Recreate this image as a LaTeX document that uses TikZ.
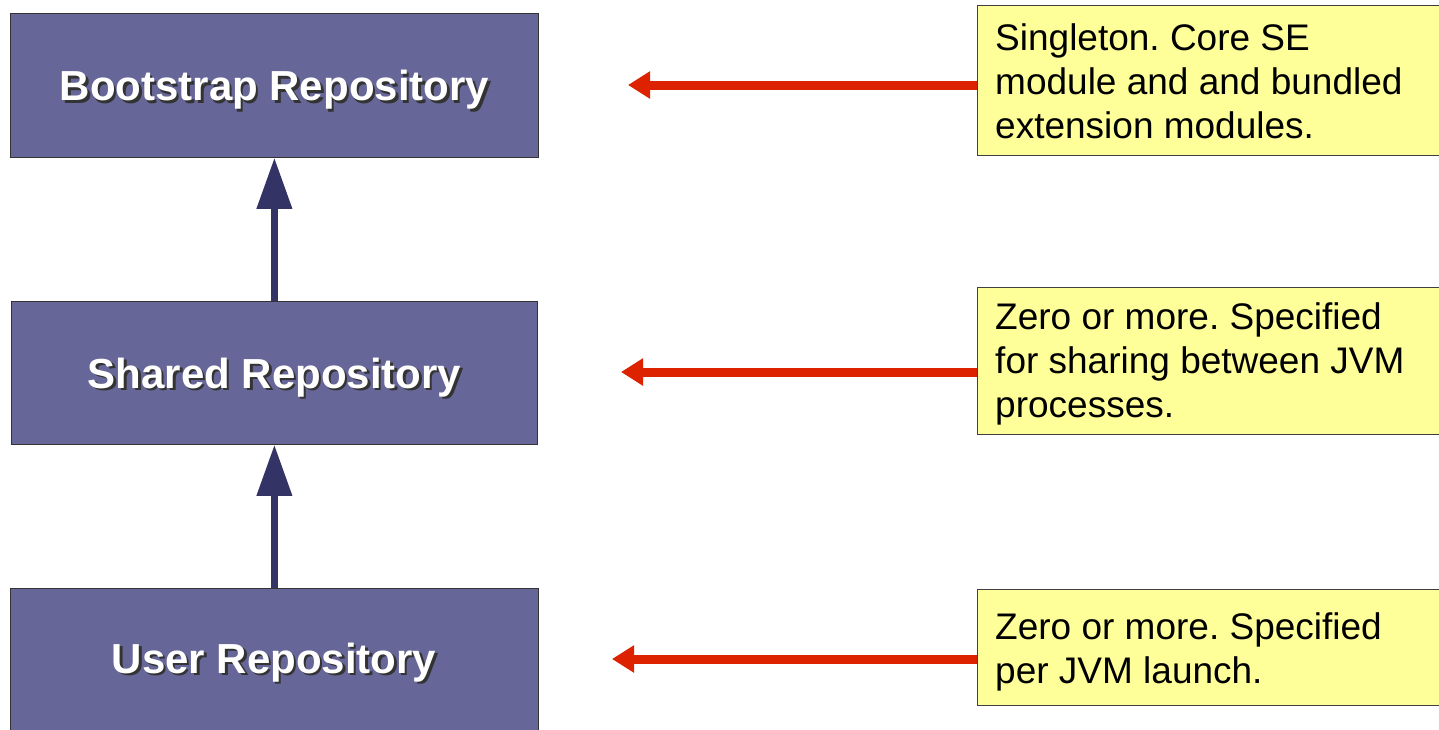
\documentclass[tikz,border=0pt]{standalone}
\usepackage{fontspec}
\setmainfont{Liberation Sans}
\usetikzlibrary{arrows.meta}
\definecolor{repofill}{HTML}{666699}
\definecolor{navy}{HTML}{333366}
\definecolor{redarr}{HTML}{DD2200}
\definecolor{note}{HTML}{FFFF99}
\frenchspacing
\begin{document}
\begin{tikzpicture}[x=1pt,y=-1pt,
  repo/.style={draw=black!80, line width=0.8pt, fill=repofill, anchor=north west, inner sep=0pt, minimum width=528pt},
  titletxt/.style={font=\fontsize{42}{50}\selectfont\bfseries, text=white, inner sep=0pt},
  shadowtxt/.style={font=\fontsize{42}{50}\selectfont\bfseries, text=black!80, inner sep=0pt},
  uparrow/.style={draw=navy, line width=7pt, -{Triangle[length=51pt,width=34pt,fill=navy]}},
  redarrow/.style={draw=redarr, line width=9pt, -{Triangle[length=22pt,width=26pt,fill=redarr]}},
  notebox/.style={draw=black!75, line width=1pt, fill=note, anchor=north west, inner sep=0pt, minimum width=470pt},
  notetext/.style={font=\fontsize{37}{44}\selectfont, align=left, anchor=north west, inner sep=0pt}
]
\useasboundingbox (0,0) rectangle (1439,729);
\clip (0,0) rectangle (1439,729);
\fill[white] (0,0) rectangle (1439,729);

% repository boxes
\node[repo, minimum height=144pt] (boot) at (10,13) {};
\node[repo, minimum width=526pt, minimum height=143pt] (shared) at (11,301) {};
\node[repo, minimum height=150pt] (user) at (10,588) {};

\node[shadowtxt] (bootS) at ([shift={(2.5,7)}]boot.center) {Bootstrap Repository};
\node[titletxt] (bootT) at ([shift={(0,4.5)}]boot.center) {Bootstrap Repository};
\node[shadowtxt] (sharedS) at ([shift={(2.5,7)}]shared.center) {Shared Repository};
\node[titletxt] (sharedT) at ([shift={(0,4.5)}]shared.center) {Shared Repository};
\node[shadowtxt] (userS) at (276.5,665) {User Repository};
\node[titletxt] (userT) at (274,662.5) {User Repository};

% navy arrows
\draw[uparrow] (shared.north) -- (boot.south);
\draw[uparrow] (user.north) -- (shared.south);

% notes
\node[notebox, minimum height=150pt] (n1) at (977,5) {};
\node[notebox, minimum height=147pt] (n2) at (977,287) {};
\node[notebox, minimum height=116pt] (n3) at (977,589) {};

\node[notetext] (n1t) at (995,23) {Singleton. Core SE\\module and and bundled\\extension modules.};
\node[notetext] (n2t) at (995,302) {Zero or more. Specified\\for sharing between JVM\\processes.};
\node[notetext] (n3t) at (995,612) {Zero or more. Specified\\per JVM launch.};

% red arrows
\coordinate (t1) at (628,85);
\coordinate (t2) at (621,372);
\coordinate (t3) at (612,659);
\draw[redarrow] (n1.west |- t1) -- (t1);
\draw[redarrow] (n2.west |- t2) -- (t2);
\draw[redarrow] (n3.west |- t3) -- (t3);
\end{tikzpicture}
\end{document}
